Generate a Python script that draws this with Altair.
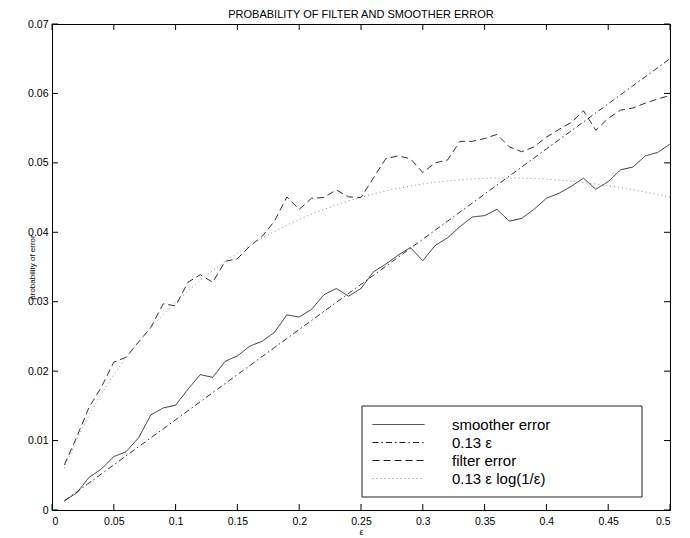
import altair as alt
import pandas as pd

# ---------------- data ----------------
eps = [0.01, 0.02, 0.03, 0.04, 0.05, 0.06, 0.07, 0.08, 0.09, 0.10,
       0.11, 0.12, 0.13, 0.14, 0.15, 0.16, 0.17, 0.18, 0.19, 0.20,
       0.21, 0.22, 0.23, 0.24, 0.25, 0.26, 0.27, 0.28, 0.29, 0.30,
       0.31, 0.32, 0.33, 0.34, 0.35, 0.36, 0.37, 0.38, 0.39, 0.40,
       0.41, 0.42, 0.43, 0.44, 0.45, 0.46, 0.47, 0.48, 0.49, 0.50]

smoother_error = [0.00135, 0.00245, 0.0047, 0.0059, 0.0077, 0.0084, 0.0104, 0.0137, 0.0147, 0.0151,
                  0.0174, 0.0195, 0.0191, 0.0214, 0.0222, 0.0236, 0.0243, 0.0256, 0.0281, 0.0278,
                  0.0289, 0.0310, 0.0319, 0.0308, 0.0319, 0.0343, 0.0354, 0.0367, 0.0378, 0.0359,
                  0.0381, 0.0392, 0.0408, 0.0422, 0.0424, 0.0433, 0.0416, 0.0420, 0.0433, 0.0449,
                  0.0456, 0.0466, 0.0478, 0.0462, 0.0473, 0.0490, 0.0494, 0.0510, 0.0515, 0.0527]

linear_bound = [0.0013, 0.0026, 0.0039, 0.0052, 0.0065, 0.0078, 0.0091, 0.0104, 0.0117, 0.0130,
                0.0143, 0.0156, 0.0169, 0.0182, 0.0195, 0.0208, 0.0221, 0.0234, 0.0247, 0.0260,
                0.0273, 0.0286, 0.0299, 0.0312, 0.0325, 0.0338, 0.0351, 0.0364, 0.0377, 0.0390,
                0.0403, 0.0416, 0.0429, 0.0442, 0.0455, 0.0468, 0.0481, 0.0494, 0.0507, 0.0520,
                0.0533, 0.0546, 0.0559, 0.0572, 0.0585, 0.0598, 0.0611, 0.0624, 0.0637, 0.0650]

filter_error = [0.0065, 0.0105, 0.0148, 0.0177, 0.0213, 0.0220, 0.0242, 0.0263, 0.0297, 0.0294,
                0.0328, 0.0339, 0.0328, 0.0358, 0.0362, 0.0380, 0.0394, 0.0416, 0.0451, 0.0433,
                0.0449, 0.0450, 0.0461, 0.0451, 0.0450, 0.0478, 0.0506, 0.0510, 0.0506, 0.0486,
                0.0500, 0.0504, 0.0531, 0.0531, 0.0535, 0.0541, 0.0523, 0.0516, 0.0523, 0.0537,
                0.0548, 0.0558, 0.0575, 0.0547, 0.0564, 0.0576, 0.0579, 0.0586, 0.0592, 0.0597]

log_bound = [0.00599, 0.01017, 0.01368, 0.01674, 0.01947, 0.02195, 0.02420, 0.02627, 0.02817, 0.02993,
             0.03156, 0.03308, 0.03448, 0.03578, 0.03699, 0.03812, 0.03916, 0.04013, 0.04102, 0.04185,
             0.04261, 0.04330, 0.04394, 0.04453, 0.04506, 0.04553, 0.04596, 0.04634, 0.04667, 0.04696,
             0.04720, 0.04740, 0.04756, 0.04768, 0.04777, 0.04781, 0.04782, 0.04780, 0.04774, 0.04765,
             0.04752, 0.04737, 0.04718, 0.04696, 0.04671, 0.04644, 0.04613, 0.04580, 0.04544, 0.04506]

series_names = ["smoother error", "0.13 \u03b5", "filter error", "0.13 \u03b5 log(1/\u03b5)"]
series_values = [smoother_error, linear_bound, filter_error, log_bound]

x_ticks = [0, 0.05, 0.1, 0.15, 0.2, 0.25, 0.3, 0.35, 0.4, 0.45, 0.5]
y_ticks = [0, 0.01, 0.02, 0.03, 0.04, 0.05, 0.06, 0.07]

rows = []
for name, vals in zip(series_names, series_values):
    for e, v in zip(eps, vals):
        rows.append({"eps": e, "p": v, "series": name})
df = pd.DataFrame(rows)

# ---------------- styling ----------------
W, H = 618, 486
FONT = "Liberation Sans"
TICK = 6

x_scale = alt.Scale(domain=[0, 0.5], nice=False, zero=False)
y_scale = alt.Scale(domain=[0, 0.07], nice=False, zero=False)

x_axis = alt.Axis(values=x_ticks, format="~g", title="\u03b5",
                  labelPadding=6, titleY=17, titleBaseline="top", titleFontSize=9)
y_axis = alt.Axis(values=y_ticks, format="~g", title="probability of error",
                  labelPadding=4, titleX=-20, titleAngle=270,
                  titleBaseline="middle", titleAlign="center", titleFontSize=8)

legend = alt.Legend(
    title=None,
    orient="none",
    legendX=310,
    legendY=382,
    symbolType="M-1,0L5.5,0",
    symbolSize=256,
    symbolStrokeWidth=1,
    labelFont=FONT,
    labelFontSize=15,
    labelColor="black",
    labelOffset=63,
    padding=10,
    rowPadding=1,
)

lines = alt.Chart(df).mark_line(strokeWidth=0.9, clip=True).encode(
    x=alt.X("eps:Q", scale=x_scale, axis=x_axis),
    y=alt.Y("p:Q", scale=y_scale, axis=y_axis),
    color=alt.Color("series:N",
                    scale=alt.Scale(domain=series_names,
                                    range=["#1a1a1a", "#1a1a1a", "#1a1a1a", "#808080"]),
                    legend=legend),
    strokeDash=alt.StrokeDash("series:N",
                              scale=alt.Scale(domain=series_names,
                                              range=[[1, 0], [6, 3, 1.5, 3], [7, 4], [1, 3]]),
                              legend=legend),
)

xt = pd.DataFrame({"eps": x_ticks})
yt = pd.DataFrame({"p": y_ticks})

xtick_bottom = alt.Chart(xt).mark_rule(color="black", strokeWidth=1).encode(
    x=alt.X("eps:Q", scale=x_scale, axis=x_axis), y=alt.value(H), y2=alt.value(H - TICK))
xtick_top = alt.Chart(xt).mark_rule(color="black", strokeWidth=1).encode(
    x=alt.X("eps:Q", scale=x_scale, axis=x_axis), y=alt.value(0), y2=alt.value(TICK))
ytick_left = alt.Chart(yt).mark_rule(color="black", strokeWidth=1).encode(
    y=alt.Y("p:Q", scale=y_scale, axis=y_axis), x=alt.value(0), x2=alt.value(TICK))
ytick_right = alt.Chart(yt).mark_rule(color="black", strokeWidth=1).encode(
    y=alt.Y("p:Q", scale=y_scale, axis=y_axis), x=alt.value(W), x2=alt.value(W - TICK))

# frame of the legend box (decoration)
legend_frame = alt.Chart(pd.DataFrame({"k": [0]})).mark_rect(
    fill="white", stroke="#222222", strokeWidth=1
).encode(
    x=alt.value(310), x2=alt.value(590), y=alt.value(382), y2=alt.value(473)
)

chart = alt.layer(lines, xtick_bottom, xtick_top, ytick_left, ytick_right, legend_frame).properties(
    width=W,
    height=H,
    title=alt.Title("PROBABILITY OF FILTER AND SMOOTHER ERROR", font=FONT, fontSize=11,
                    fontWeight="normal", color="black", offset=-1),
    autosize=alt.AutoSizeParams(type="none"),
    padding={"left": 44, "top": 16, "right": 12, "bottom": 28},
).configure_view(
    stroke="black", strokeWidth=1
).configure_axis(
    domainColor="black", domainWidth=1, ticks=False, tickSize=0, grid=False,
    labelFont=FONT, labelFontSize=10.5, labelColor="black",
    titleFont=FONT, titleColor="black", titleFontWeight="normal",
)

chart.save("out.html", embed_options={"renderer": "svg", "actions": False})
